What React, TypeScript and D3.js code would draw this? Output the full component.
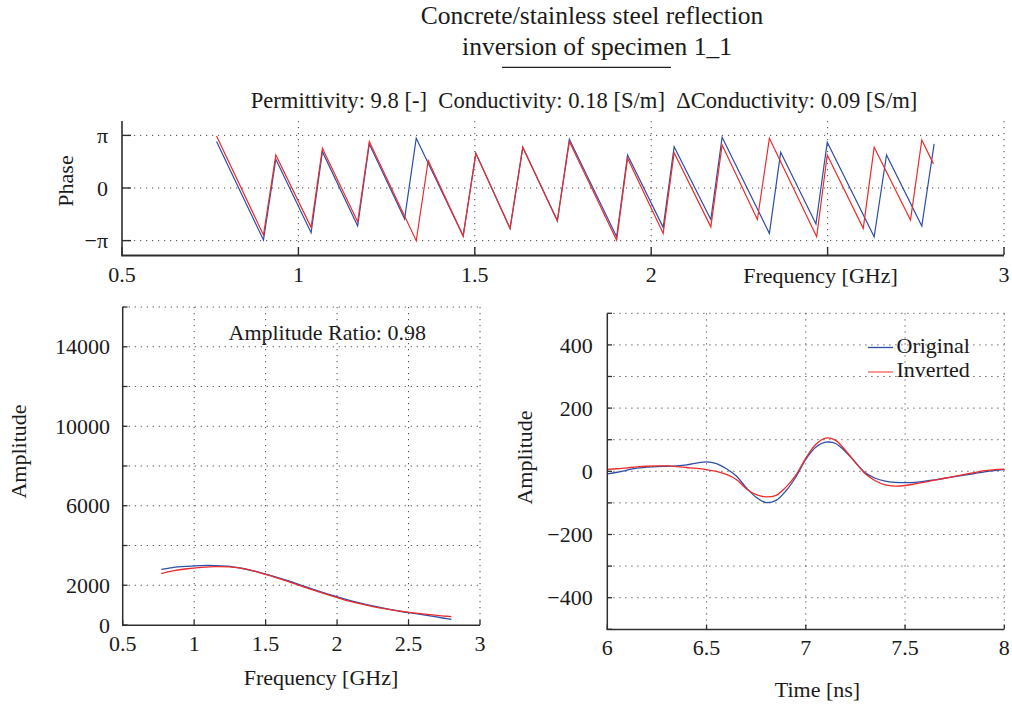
import React from "react";
import * as d3 from "d3";

// ---- Phase panel data (vertices of the wrapped phase, rad) ----
const phaseFreqOrig = [0.768, 0.901, 0.936, 1.036, 1.068, 1.168, 1.201, 1.301, 1.334, 1.467, 1.503, 1.600, 1.636, 1.734, 1.768, 1.902, 1.933, 2.034, 2.065, 2.169, 2.201, 2.335, 2.367, 2.467, 2.499, 2.632, 2.667, 2.767, 2.802];
const phaseOrig = [2.77, -3.11, 1.72, -2.67, 2.17, -2.27, 2.63, -1.84, 2.97, -2.87, 2.07, -2.41, 2.43, -1.96, 2.91, -2.91, 1.97, -2.35, 2.47, -1.88, 3.03, -2.71, 2.13, -2.15, 2.73, -2.91, 1.97, -2.27, 2.63];
const phaseFreqInv = [0.768, 0.901, 0.936, 1.036, 1.068, 1.168, 1.201, 1.334, 1.368, 1.467, 1.503, 1.600, 1.636, 1.734, 1.768, 1.902, 1.933, 2.034, 2.065, 2.169, 2.201, 2.301, 2.335, 2.469, 2.499, 2.601, 2.632, 2.735, 2.767, 2.800];
const phaseInv = [3.11, -2.81, 1.97, -2.35, 2.37, -2.02, 2.77, -3.15, 1.64, -2.87, 2.07, -2.41, 2.43, -1.96, 2.77, -3.11, 1.78, -2.71, 2.11, -2.32, 2.57, -1.88, 2.97, -2.91, 1.97, -2.41, 2.43, -1.91, 2.87, 1.44];
const phaseTickValues = [-Math.PI, 0, Math.PI];
const phaseTickLabels = ["\u2212\u03c0", "0", "\u03c0"];
const freqTicks = [0.5, 1, 1.5, 2, 2.5, 3];
const freqTickLabels = ["0.5", "1", "1.5", "2", "2.5", "3"];
const phaseFreqTickLabels = ["0.5", "1", "1.5", "2", "", "3"];

// ---- Amplitude spectrum data ----
const specFreq = [0.77, 0.85, 0.95, 1.05, 1.15, 1.25, 1.35, 1.45, 1.55, 1.65, 1.75, 1.85, 1.95, 2.05, 2.15, 2.25, 2.35, 2.45, 2.55, 2.65, 2.75, 2.80];
const specOrig = [2800, 2890, 2950, 2990, 2990, 2950, 2830, 2660, 2460, 2240, 2000, 1760, 1530, 1320, 1130, 960, 810, 680, 570, 460, 340, 283];
const specInv = [2590, 2720, 2830, 2900, 2940, 2920, 2820, 2650, 2440, 2210, 1960, 1720, 1490, 1270, 1090, 930, 800, 690, 600, 520, 450, 420];
const specYTicks = [0, 2000, 4000, 6000, 8000, 10000, 12000, 14000, 16000];
const specYLabels = ["0", "2000", "", "6000", "", "10000", "", "14000", ""];

// ---- Time domain data ----
const timeNs = [6.00, 6.05, 6.10, 6.15, 6.20, 6.25, 6.30, 6.35, 6.40, 6.45, 6.50, 6.55, 6.60, 6.65, 6.70, 6.75, 6.80, 6.85, 6.90, 6.95, 7.00, 7.05, 7.10, 7.15, 7.20, 7.25, 7.30, 7.35, 7.40, 7.45, 7.50, 7.55, 7.60, 7.65, 7.70, 7.75, 7.80, 7.85, 7.90, 7.95, 8.00];
const timeOrig = [-8, -3, 4, 10, 13, 15, 16, 17, 20, 26, 30, 24, 8, -15, -52, -82, -99, -92, -62, -18, 38, 76, 92, 88, 62, 28, -5, -22, -31, -35, -36, -35, -31, -27, -22, -17, -12, -7, -2, 2, 5];
const timeInv = [6, 8, 11, 14, 16, 17, 17, 15, 12, 9, 5, 0, -10, -26, -55, -74, -81, -76, -50, -12, 42, 85, 105, 98, 66, 28, -8, -30, -43, -47, -45, -40, -34, -28, -22, -16, -10, -4, 2, 5, 7];
const timeXTicks = [6, 6.5, 7, 7.5, 8];
const timeXLabels = ["6", "6.5", "7", "7.5", "8"];
const timeYTicks = [-500, -400, -300, -200, -100, 0, 100, 200, 300, 400, 500];
const timeYLabels = ["", "\u2212400", "", "\u2212200", "", "0", "", "200", "", "400", ""];

const seriesNames = ["Original", "Inverted"];
const BLUE = "#2d4ea8";
const RED = "#ee2b2b";
const FONT = "'Liberation Serif', 'Times New Roman', serif";
const AXIS = "#2e2e2e";
const GRID = "#4a4a4a";
const DASH = "1.2,4.8";

function zip(xs: number[], ys: number[]): [number, number][] {
  return xs.map((x, i) => [x, ys[i]] as [number, number]);
}

export default function App() {
  // Phase panel scales
  const px = d3.scaleLinear().domain([0.5, 3]).range([122, 1004]);
  const py = d3.scaleLinear().domain([-4, 4]).range([255, 121]);
  const phaseLine = d3.line<[number, number]>().x((d) => px(d[0])).y((d) => py(d[1]));

  // Spectrum panel
  const sx = d3.scaleLinear().domain([0.5, 3]).range([122.7, 480]);
  const sy = d3.scaleLinear().domain([0, 16000]).range([625, 307]);
  const specLine = d3.line<[number, number]>().x((d) => sx(d[0])).y((d) => sy(d[1])).curve(d3.curveCatmullRom.alpha(0.5));

  // Time panel
  const tx = d3.scaleLinear().domain([6, 8]).range([607.3, 1004.3]);
  const ty = d3.scaleLinear().domain([-500, 500]).range([629.3, 313.3]);
  const timeLine = d3.line<[number, number]>().x((d) => tx(d[0])).y((d) => ty(d[1])).curve(d3.curveCatmullRom.alpha(0.5));

  const txt = { fontFamily: FONT, fontSize: 22, fill: "#1a1a1a", whiteSpace: "pre" } as const;

  return (
    <svg width={1012} height={706} style={{ position: "absolute", left: 0, top: 0, background: "#fff" }}>
      <rect x={0} y={0} width={1012} height={706} fill="#fff" />
      {/* Titles */}
      <text x={592} y={24} textAnchor="middle" style={{ ...txt, fontSize: 25.5 }}>Concrete/stainless steel reflection</text>
      <text x={597} y={55} textAnchor="middle" style={{ ...txt, fontSize: 25.5 }}>inversion of specimen 1_1</text>
      <line x1={502} x2={671} y1={67.3} y2={67.3} stroke="#222" strokeWidth={1.2} />
      <text x={584} y={108} textAnchor="middle" xmlSpace="preserve" style={{ ...txt, fontSize: 22.6 }}>{"Permittivity: 9.8 [-]  Conductivity: 0.18 [S/m]  ΔConductivity: 0.09 [S/m]"}</text>

      {/* ===== Phase panel ===== */}
      <g>
        {freqTicks.slice(1).map((f) => (
          <line key={"pg" + f} x1={px(f)} x2={px(f)} y1={121} y2={255} stroke={GRID} strokeDasharray={DASH} strokeWidth={1} />
        ))}
        {phaseTickValues.map((v) => (
          <line key={"pgh" + v} x1={122} x2={1004} y1={py(v)} y2={py(v)} stroke={GRID} strokeDasharray={DASH} strokeWidth={1} />
        ))}
        {freqTicks.map((f) => (
          <line key={"pt" + f} x1={px(f)} x2={px(f)} y1={255} y2={247} stroke={AXIS} strokeWidth={1.4} />
        ))}
        {phaseTickValues.map((v) => (
          <line key={"pty" + v} x1={122} x2={131} y1={py(v)} y2={py(v)} stroke={AXIS} strokeWidth={1.4} />
        ))}
        <path d={phaseLine(zip(phaseFreqOrig, phaseOrig)) || ""} fill="none" stroke={BLUE} strokeWidth={1.2} />
        <path d={phaseLine(zip(phaseFreqInv, phaseInv)) || ""} fill="none" stroke={RED} strokeWidth={1.2} />
        <line x1={122} x2={122} y1={121} y2={255.5} stroke={AXIS} strokeWidth={1.6} />
        <line x1={121.2} x2={1004} y1={255.5} y2={255.5} stroke={AXIS} strokeWidth={1.8} />
        {freqTicks.map((f, i) => (
          <text key={"ptl" + f} x={px(f)} y={282} textAnchor="middle" style={txt}>{phaseFreqTickLabels[i]}</text>
        ))}
        {phaseTickValues.map((v, i) => (
          <text key={"pyl" + v} x={108} y={py(v)} dy="0.35em" textAnchor="end" style={txt}>{phaseTickLabels[i]}</text>
        ))}
        <text x={820.5} y={283} textAnchor="middle" style={txt}>Frequency [GHz]</text>
        <text transform="translate(73,181) rotate(-90)" textAnchor="middle" style={txt}>Phase</text>
      </g>

      {/* ===== Spectrum panel ===== */}
      <g>
        {freqTicks.slice(1).map((f) => (
          <line key={"sg" + f} x1={sx(f)} x2={sx(f)} y1={307} y2={625} stroke={GRID} strokeDasharray={DASH} strokeWidth={1} />
        ))}
        {specYTicks.slice(1).map((v) => (
          <line key={"sgh" + v} x1={122.7} x2={480} y1={sy(v)} y2={sy(v)} stroke={GRID} strokeDasharray={DASH} strokeWidth={1} />
        ))}
        {freqTicks.map((f) => (
          <line key={"st" + f} x1={sx(f)} x2={sx(f)} y1={625} y2={620} stroke={AXIS} strokeWidth={1.3} />
        ))}
        {specYTicks.map((v) => (
          <line key={"sty" + v} x1={122.7} x2={127.5} y1={sy(v)} y2={sy(v)} stroke={AXIS} strokeWidth={1.3} />
        ))}
        <path d={specLine(zip(specFreq, specOrig)) || ""} fill="none" stroke={BLUE} strokeWidth={1.3} />
        <path d={specLine(zip(specFreq, specInv)) || ""} fill="none" stroke={RED} strokeWidth={1.3} />
        <line x1={122.7} x2={122.7} y1={307} y2={625.5} stroke={AXIS} strokeWidth={1.5} />
        <line x1={122} x2={480} y1={625.3} y2={625.3} stroke={AXIS} strokeWidth={1.5} />
        {freqTicks.map((f, i) => (
          <text key={"stl" + f} x={sx(f)} y={651} textAnchor="middle" style={txt}>{freqTickLabels[i]}</text>
        ))}
        {specYTicks.map((v, i) => (
          <text key={"syl" + v} x={110} y={sy(v)} dy="0.35em" textAnchor="end" style={txt}>{specYLabels[i]}</text>
        ))}
        <text x={228.5} y={340} style={txt}>Amplitude Ratio: 0.98</text>
        <text x={321} y={685} textAnchor="middle" style={txt}>Frequency [GHz]</text>
        <text transform="translate(26,451.5) rotate(-90)" textAnchor="middle" style={txt}>Amplitude</text>
      </g>

      {/* ===== Time panel ===== */}
      <g>
        {timeXTicks.slice(1).map((t) => (
          <line key={"tg" + t} x1={tx(t)} x2={tx(t)} y1={313.3} y2={629.3} stroke={GRID} strokeDasharray={DASH} strokeWidth={1} />
        ))}
        {timeYTicks.slice(1).map((v) => (
          <line key={"tgh" + v} x1={607.3} x2={1004.3} y1={ty(v)} y2={ty(v)} stroke={GRID} strokeDasharray={DASH} strokeWidth={1} />
        ))}
        {timeXTicks.map((t) => (
          <line key={"tt" + t} x1={tx(t)} x2={tx(t)} y1={629.3} y2={624.5} stroke={AXIS} strokeWidth={1.3} />
        ))}
        {timeYTicks.map((v) => (
          <line key={"tty" + v} x1={607.3} x2={612} y1={ty(v)} y2={ty(v)} stroke={AXIS} strokeWidth={1.3} />
        ))}
        <path d={timeLine(zip(timeNs, timeOrig)) || ""} fill="none" stroke={BLUE} strokeWidth={1.3} />
        <path d={timeLine(zip(timeNs, timeInv)) || ""} fill="none" stroke={RED} strokeWidth={1.3} />
        <line x1={607.3} x2={607.3} y1={313.3} y2={629.8} stroke={AXIS} strokeWidth={1.5} />
        <line x1={606.6} x2={1004.3} y1={629.5} y2={629.5} stroke={AXIS} strokeWidth={1.5} />
        {timeXTicks.map((t, i) => (
          <text key={"ttl" + t} x={tx(t)} y={655} textAnchor="middle" style={txt}>{timeXLabels[i]}</text>
        ))}
        {timeYTicks.map((v, i) => (
          <text key={"tyl" + v} x={592.7} y={ty(v)} dy="0.35em" textAnchor="end" style={txt}>{timeYLabels[i]}</text>
        ))}
        <text x={817.5} y={697} textAnchor="middle" style={txt}>Time [ns]</text>
        <text transform="translate(532,457.5) rotate(-90)" textAnchor="middle" style={txt}>Amplitude</text>
        {/* Legend */}
        <line x1={868} x2={893} y1={347.5} y2={347.5} stroke={BLUE} strokeWidth={1.3} />
        <text x={896.5} y={352.5} style={txt}>{seriesNames[0]}</text>
        <line x1={868} x2={893} y1={372} y2={372} stroke={RED} strokeWidth={1.3} opacity={0.75} />
        <text x={896.5} y={377} style={txt}>{seriesNames[1]}</text>
      </g>
    </svg>
  );
}
